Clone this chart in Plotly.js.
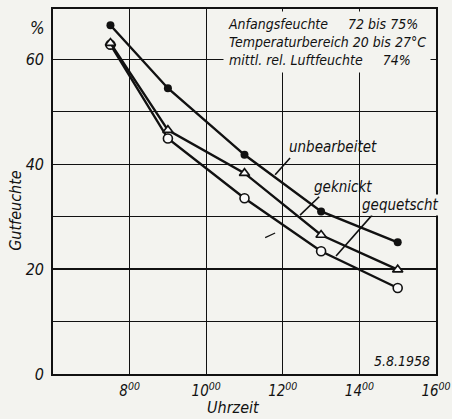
<!DOCTYPE html>
<html>
<head>
<meta charset="utf-8">
<script src="https://cdn.plot.ly/plotly-3.0.1.min.js"></script>
<style>html,body{margin:0;padding:0;background:#f3f3ef;}</style>
</head>
<body>
<div id="chart" style="width:452px;height:419px;"></div>
<script>
// Uhrzeit (hours)
const hours = [7.5, 9, 11, 13, 15];
// Gutfeuchte (%)
const unbearbeitet = [66.5, 54.5, 41.8, 31.0, 25.1];
const geknickt = [63.1, 46.5, 38.3, 26.5, 19.9];
const gequetscht = [62.8, 44.9, 33.5, 23.4, 16.4];

const xTickVals = [8, 10, 12, 14, 16];
const xTickText = ['8<sup>00</sup>', '10<sup>00</sup>', '12<sup>00</sup>', '14<sup>00</sup>', '16<sup>00</sup>'];
const yTickVals = [0, 10, 20, 30, 40, 50, 60];
const yTickText = ['0', '', '20', '', '40', '', '60'];

const FONT = 'DejaVu Sans Condensed, DejaVu Sans, sans-serif';
const ink = '#111';
const bg = '#f3f3ef';

function trace(y, name, marker) {
  return {x: hours, y: y, name: name, type: 'scatter', mode: 'lines+markers',
    line: {color: ink, width: 2.4}, marker: marker, cliponaxis: false};
}

const data = [
  trace(gequetscht, 'gequetscht', {symbol: 'circle', size: 9, color: '#fafafa', line: {color: ink, width: 1.6}}),
  trace(geknickt, 'geknickt', {symbol: 'triangle-up', size: 9, color: '#fafafa', line: {color: ink, width: 1.6}}),
  trace(unbearbeitet, 'unbearbeitet', {symbol: 'circle', size: 8, color: ink, line: {color: ink, width: 0}})
];

const lineStyle = {color: ink, width: 1.6};
const shapes = [
  {type: 'line', xref: 'x', yref: 'y', x0: 11.80, y0: 38.0, x1: 12.19, y1: 41.2, line: lineStyle},
  {type: 'line', xref: 'x', yref: 'y', x0: 12.45, y0: 30.3, x1: 12.95, y1: 33.8, line: lineStyle},
  {type: 'line', xref: 'x', yref: 'y', x0: 13.39, y0: 22.5, x1: 14.33, y1: 30.3, line: lineStyle},
  {type: 'line', xref: 'x', yref: 'y', x0: 11.54, y0: 26.0, x1: 11.80, y1: 26.9, line: {color: ink, width: 1.2}}
];

const tf = (size) => ({family: FONT, size: size, color: ink, style: 'italic'});

const annotations = [
  {xref: 'x', yref: 'y', x: 13.31, y: 43.3, text: 'unbearbeitet', showarrow: false, font: tf(15)},
  {xref: 'x', yref: 'y', x: 13.57, y: 35.7, text: 'geknickt', showarrow: false, font: tf(15)},
  {xref: 'x', yref: 'y', x: 15.06, y: 32.3, text: 'gequetscht', showarrow: false, font: tf(15), bgcolor: bg},
  {xref: 'paper', yref: 'paper', x: 0.986, y: 0.995, xanchor: 'right', yanchor: 'top', align: 'left',
   text: 'Anfangsfeuchte     72 bis 75%<br>Temperaturbereich 20 bis 27°C<br>mittl. rel. Luftfeuchte     74%',
   showarrow: false, font: tf(14), bgcolor: bg, borderpad: 4},
  {xref: 'x', yref: 'y', x: 15.9, y: 2.5, xanchor: 'right', text: '5.8.1958', showarrow: false, font: tf(14)},
  {xref: 'paper', yref: 'y', x: -0.04, y: 66, xanchor: 'center', text: '%', showarrow: false, font: tf(17)},
  {xref: 'paper', yref: 'paper', x: -0.1, y: 0.449, xanchor: 'center', yanchor: 'middle', text: 'Gutfeuchte', textangle: -90, showarrow: false, font: tf(16)},
  {xref: 'paper', yref: 'paper', x: 0.47, y: -0.093, yanchor: 'middle', text: 'Uhrzeit', showarrow: false, font: tf(16)}
];

const layout = {
  width: 452, height: 419,
  margin: {l: 53, r: 16, t: 9, b: 45},
  paper_bgcolor: bg, plot_bgcolor: bg,
  showlegend: false,
  xaxis: {range: [6, 16], tickvals: xTickVals, ticktext: xTickText, showgrid: true,
    gridcolor: ink, gridwidth: 1.3, showline: true, linecolor: ink, linewidth: 1.8, mirror: true,
    zeroline: false, ticks: '', tickfont: tf(15), ticklabelstandoff: 2},
  yaxis: {range: [0, 69.6], tickvals: yTickVals, ticktext: yTickText, showgrid: true,
    gridcolor: ink, gridwidth: 1.3, showline: true, linecolor: ink, linewidth: 1.8, mirror: true,
    zeroline: false, ticks: '', tickfont: tf(16), ticklabelstandoff: 4},
  shapes: shapes,
  annotations: annotations
};

Plotly.newPlot('chart', data, layout, {displayModeBar: false, staticPlot: true});
</script>
</body>
</html>
